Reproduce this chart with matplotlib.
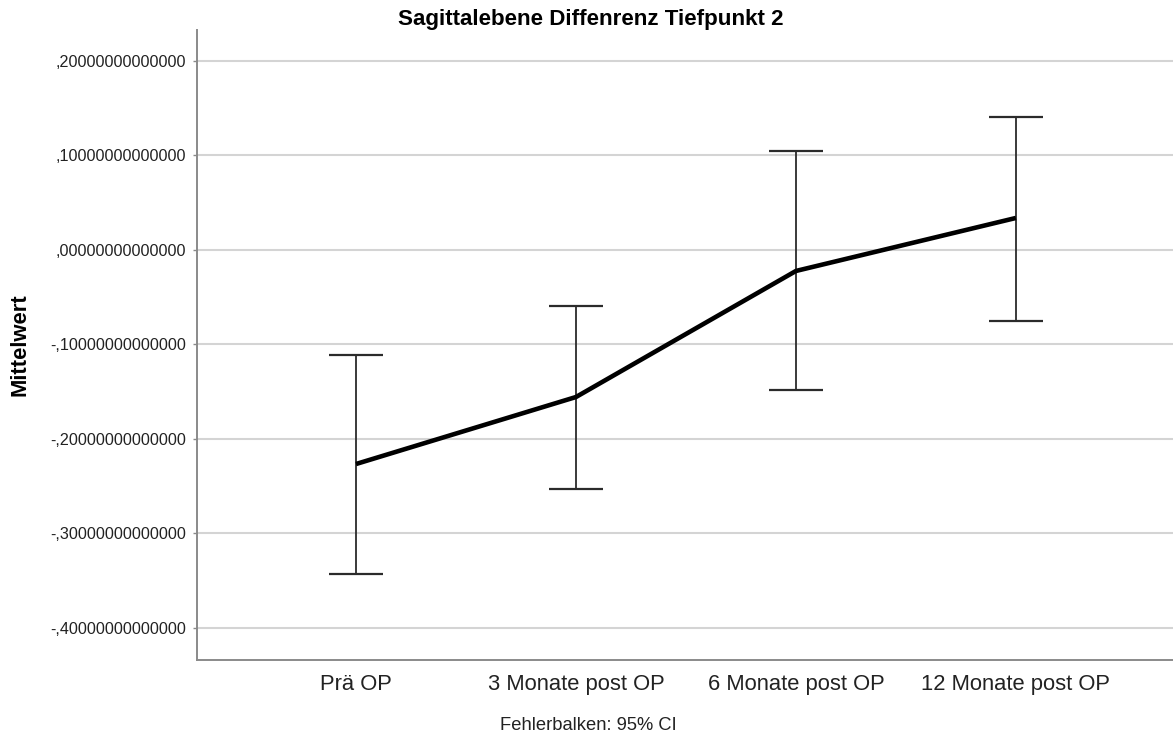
import numpy as np
import matplotlib
matplotlib.use("Agg")
import matplotlib.pyplot as plt
from matplotlib.ticker import FuncFormatter

plt.rcParams["font.family"] = ["Liberation Sans", "DejaVu Sans"]

# Mittelwerte und 95%-Konfidenzintervalle je Messzeitpunkt
zeitpunkte = ["Prä OP", "3 Monate post OP", "6 Monate post OP", "12 Monate post OP"]
mittelwert = [-0.2265, -0.1556, -0.0222, 0.0339]
ci_unten = [-0.3429, -0.2529, -0.1487, -0.0751]
ci_oben = [-0.1111, -0.0589, 0.1048, 0.1407]
y_ticks = [-0.4, -0.3, -0.2, -0.1, 0.0, 0.1, 0.2]


def spss_format(v, pos=None):
    # SPSS style: comma as decimal mark, no leading zero
    s = "{:.14f}".format(abs(v)).replace("0.", ",", 1)
    return ("-" if v < -1e-12 else "") + s


fig = plt.figure(figsize=(11.73, 7.38), dpi=100)
ax = fig.add_axes([197 / 1173, 1 - 660 / 738, 1 - 197 / 1173, (660 - 30) / 738])

x = np.arange(len(zeitpunkte))
m = np.array(mittelwert)
err = [m - np.array(ci_unten), np.array(ci_oben) - m]

ax.errorbar(x, m, yerr=err, fmt="none", ecolor="#2b2b2b", elinewidth=1.3,
            capsize=19.4, capthick=1.6, zorder=3)
ax.plot(x, m, color="black", linewidth=3.3, solid_joinstyle="round",
        solid_capstyle="butt", zorder=4)

ax.set_xlim(-0.7227, 3.714)
ax.set_ylim(-0.4339, 0.2328)
ax.set_yticks(y_ticks)
ax.yaxis.set_major_formatter(FuncFormatter(spss_format))
ax.set_xticks(x)
ax.set_xticklabels(zeitpunkte)

ax.grid(axis="y", color="#d4d4d4", linewidth=1.5, zorder=0)
ax.set_axisbelow(True)
for side in ["top", "right"]:
    ax.spines[side].set_visible(False)
for side in ["left", "bottom"]:
    ax.spines[side].set_color("#8a8a8a")
    ax.spines[side].set_linewidth(1.4)

ax.tick_params(axis="y", length=3, width=1, color="#8a8a8a", pad=5,
               labelsize=11.6, labelcolor="#222222")
ax.tick_params(axis="x", length=0, pad=10, labelsize=15.8, labelcolor="#222222")

fig.text(20.5 / 1173, 1 - 344.5 / 738, "Mittelwert", rotation=90, fontsize=15.8,
         fontweight="bold", ha="center", va="center")
fig.text(591 / 1173, 1 - 19 / 738, "Sagittalebene Diffenrenz Tiefpunkt 2",
         fontsize=16.1, fontweight="bold", ha="center", va="center")
fig.text(588 / 1173, 1 - 725 / 738, "Fehlerbalken: 95% CI", fontsize=13.2,
         color="#222222", ha="center", va="center")

fig.savefig("out.png", dpi=100, facecolor="white")
